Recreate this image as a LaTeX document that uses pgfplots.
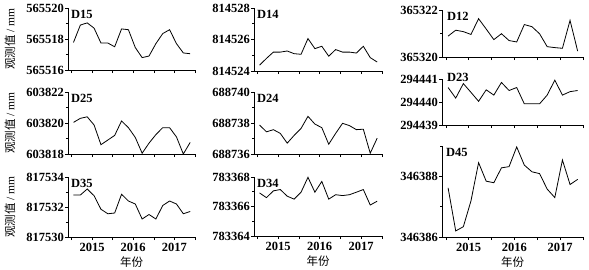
\documentclass[border=0pt]{standalone}
\usepackage{pgfplots}
\usepackage{pgfplotstable}
\pgfplotsset{compat=1.18}
\usepackage{fontspec}
\setmainfont{Liberation Serif}
\newfontfamily\cjk{Noto Sans CJK SC}

% observed values (mm), one column per station, bimonthly samples
\pgfplotstableread{
i D15 D25 D35 D14 D24 D34 D12 D23 D45
0 565517.78 603820.04 817532.8 814524.37 688737.87 783366.92 365320.89 294440.63 346387.62
1 565518.9 603820.3 817532.8 814524.8 688737.43 783366.6 365321.14 294440.17 346386.2
2 565519.04 603820.4 817533.2 814525.2 688737.57 783367.06 365321.08 294440.8 346386.34
3 565518.7 603819.87 817532.75 814525.2 688737.33 783367.15 365320.96 294440.42 346387.19
4 565517.74 603818.6 817531.85 814525.27 688736.7 783366.7 365321.63 294440.03 346388.45
5 565517.74 603818.9 817531.55 814525.1 688737.2 783366.5 365321.19 294440.53 346387.84
6 565517.5 603819.2 817531.6 814525.06 688737.65 783366.97 365320.74 294440.3 346387.79
7 565518.65 603820.13 817532.85 814526.06 688738.43 783367.98 365320.99 294440.85 346388.28
8 565518.6 603819.7 817532.4 814525.42 688737.93 783366.97 365320.7 294440.5 346388.32
9 565517.45 603819.07 817532.2 814525.57 688737.7 783367.7 365320.64 294440.63 346388.97
10 565516.8 603818.05 817531.2 814524.94 688736.63 783366.5 365321.38 294439.92 346388.37
11 565516.9 603818.7 817531.5 814525.36 688737.33 783366.8 365321.29 294439.92 346388.15
12 565517.7 603819.25 817531.2 814525.2 688737.98 783366.74 365320.99 294439.92 346388.09
13 565518.35 603819.7 817532.1 814525.2 688737.83 783366.8 365320.44 294440.3 346387.58
14 565518.6 603819.7 817532.4 814525.14 688737.57 783366.97 365320.4 294440.95 346387.3
15 565517.7 603819.1 817532.2 814525.57 688737.6 783367.15 365320.37 294440.3 346388.54
16 565517.1 603818.0 817531.55 814524.85 688736.05 783366.1 365321.56 294440.45 346387.73
17 565517.05 603818.75 817531.7 814524.57 688737.02 783366.36 365320.25 294440.5 346387.9
}\data

% exact decimal offset (l3fp) so that pgf's low-precision FPU keeps the variations
\newcommand\addoffset[3]{\pgfplotstablecreatecol[create col/assign/.code={%
  \getthisrow{#2}\tmpv\edef\tmpe{\fpeval{\tmpv-#3}}%
  \pgfkeyslet{/pgfplots/table/create col/next content}\tmpe}]{#2o}{#1}}
\addoffset{\data}{D15}{565516}
\addoffset{\data}{D25}{603818}
\addoffset{\data}{D35}{817530}
\addoffset{\data}{D14}{814524}
\addoffset{\data}{D24}{688736}
\addoffset{\data}{D34}{783364}
\addoffset{\data}{D12}{365320}
\addoffset{\data}{D23}{294439}
\addoffset{\data}{D45}{346386}

\pgfplotsset{
  panel/.style={
    scale only axis, anchor=south west,
    axis x line*=bottom, axis y line*=left,
    xmin=-0.8, xmax=17.7,
    xtick={-0.3,2.7,5.7,8.7,11.7,14.7,17.7},
    xticklabels={},
    tick align=outside,
    major tick length=3pt, minor tick length=2pt,
    every tick/.style={black, line width=0.6pt},
    axis line style={black, line width=0.7pt},
    ticklabel style={font=\bfseries\fontsize{12.5}{13}\selectfont},
    /pgf/number format/assume math mode=true,
    yticklabel style={inner sep=1pt},
    xticklabel style={inner sep=3pt},
    clip=false,
  },
  bottomrow/.style={
    xticklabels={,2015,,2016,,2017,},
    xlabel={\cjk 年份},
    xlabel style={font=\fontsize{11.5}{12}\selectfont, inner sep=0pt,
      at={(axis description cs:0.5,0)}, anchor=north, yshift=-19.5pt},
  },
  ylab/.style={
    ylabel={{\cjk 观测值} / mm},
    ylabel style={font=\fontsize{11.5}{12}\selectfont, inner sep=0pt,
      at={(axis description cs:#1,0.5)}, anchor=center},
  },
  dline/.style={black, line width=0.8pt, mark=none},
}
\newcommand{\plabel}[2][]{\node[anchor=north west, inner sep=0pt, font=\bfseries\fontsize{12.5}{13}\selectfont, xshift=3pt, yshift=-2pt, #1] at (rel axis cs:0,1) {#2};}

\begin{document}
\begin{tikzpicture}[x=1pt,y=1pt]
\useasboundingbox (0,0) rectangle (589,269);

% ---------------- column 1 ----------------
\begin{axis}[panel, at={(68pt,199pt)}, width=127pt, height=62pt,
  ymin=0, ymax=4, ytick={0,2,4}, minor ytick={1,3},
  yticklabels={565516,565518,565520}, ylab=-0.457]
\addplot[dline] table[x=i, y=D15o] {\data};
\plabel{D15}
\end{axis}

\begin{axis}[panel, at={(68pt,115pt)}, width=127pt, height=62pt,
  ymin=0, ymax=4, ytick={0,2,4}, minor ytick={1,3},
  yticklabels={603818,603820,603822}, ylab=-0.457]
\addplot[dline] table[x=i, y=D25o] {\data};
\plabel{D25}
\end{axis}

\begin{axis}[panel, bottomrow, at={(68pt,32pt)}, width=127pt, height=60pt,
  ymin=0, ymax=4, ytick={0,2,4}, minor ytick={1,3},
  yticklabels={817530,817532,817534}, ylab=-0.457]
\addplot[dline] table[x=i, y=D35o] {\data};
\plabel{D35}
\end{axis}

% ---------------- column 2 ----------------
\begin{axis}[panel, at={(254pt,198pt)}, width=128pt, height=63pt,
  ymin=0, ymax=4, ytick={0,2,4}, minor ytick={1,3},
  yticklabels={814524,814526,814528}]
\addplot[dline] table[x=i, y=D14o] {\data};
\plabel{D14}
\end{axis}

\begin{axis}[panel, at={(254pt,115pt)}, width=128pt, height=62pt,
  ymin=0, ymax=4, ytick={0,2,4}, minor ytick={1,3},
  yticklabels={688736,688738,688740}]
\addplot[dline] table[x=i, y=D24o] {\data};
\plabel{D24}
\end{axis}

\begin{axis}[panel, bottomrow, at={(254pt,33pt)}, width=128pt, height=59pt,
  ymin=0, ymax=4, ytick={0,2,4}, minor ytick={1,3},
  yticklabels={783364,783366,783368}]
\addplot[dline] table[x=i, y=D34o] {\data};
\plabel{D34}
\end{axis}

% ---------------- column 3 ----------------
\begin{axis}[panel, at={(442pt,212pt)}, width=141pt, height=47pt,
  ymin=0, ymax=2, ytick={0,2}, minor ytick={1},
  yticklabels={365320,365322}]
\addplot[dline] table[x=i, y=D12o] {\data};
\plabel[xshift=2pt]{D12}
\end{axis}

\begin{axis}[panel, at={(442pt,144pt)}, width=141pt, height=46pt,
  ymin=0, ymax=2, ytick={0,1,2},
  yticklabels={294439,294440,294441}]
\addplot[dline] table[x=i, y=D23o] {\data};
\plabel[xshift=2pt, yshift=8pt]{D23}
\end{axis}

\begin{axis}[panel, bottomrow, at={(442pt,32pt)}, width=141pt, height=91pt,
  ymin=0, ymax=3, ytick={0,2}, minor ytick={1,3},
  yticklabels={346386,346388}]
\addplot[dline] table[x=i, y=D45o] {\data};
\plabel[xshift=1pt]{D45}
\end{axis}
\end{tikzpicture}
\end{document}
